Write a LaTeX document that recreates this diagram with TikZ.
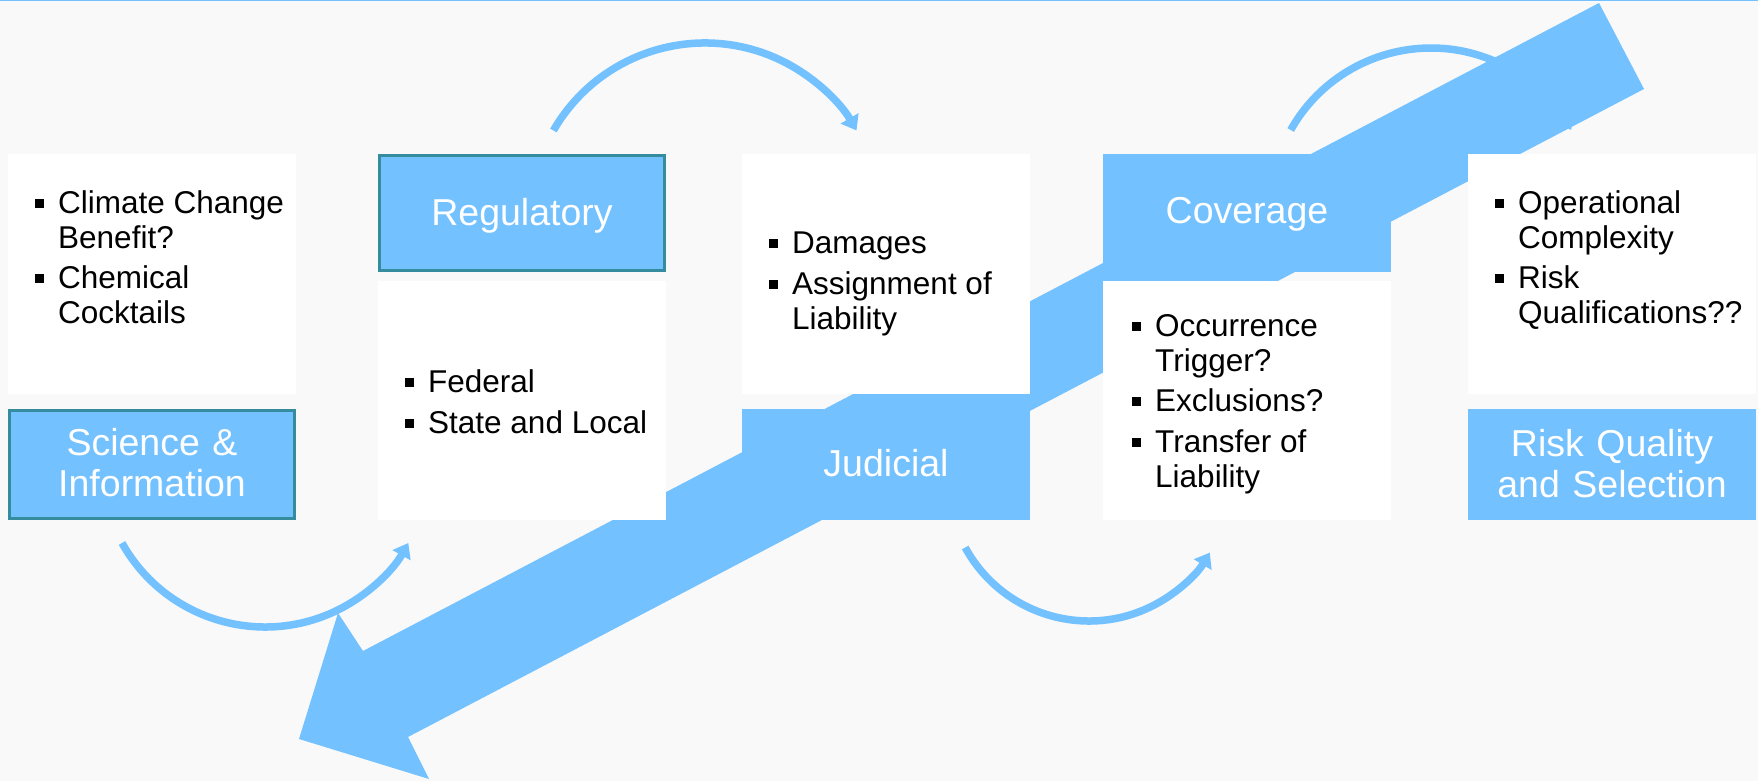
\documentclass[tikz,border=0pt]{standalone}
\usepackage{fontspec}
\setmainfont{Liberation Sans}
\usetikzlibrary{arrows.meta}

\definecolor{skyfill}{RGB}{115,193,254}
\definecolor{edgeteal}{RGB}{52,140,158}
\definecolor{pagebg}{RGB}{249,249,249}

% square bullet in a fixed-width slot
\newcommand\blt{\makebox[23pt][l]{\rule[6pt]{9pt}{9pt}}}

\tikzset{
  panel/.style={inner sep=0pt, outer sep=0pt, anchor=south west, minimum width=288pt},
  whitebox/.style={panel, fill=white},
  bluebox/.style={panel, fill=skyfill},
  edged/.style={panel, fill=skyfill, draw=edgeteal, line width=3pt, minimum width=285pt},
  listtext/.style={anchor=base west, inner sep=0pt, font=\fontsize{31.5}{35}\selectfont},
  headtext/.style={anchor=base, inner sep=0pt, text width=288pt, align=center,
    text=white, font=\fontsize{37.5}{41}\selectfont},
  cycarrow/.style={draw=skyfill, line width=7.5pt, -{Triangle[length=14pt,width=20pt]}}
}

\begin{document}
\begin{tikzpicture}[x=1pt, y=1pt]
  \useasboundingbox (0,0) rectangle (1758,781);
  \fill[pagebg] (0,0) rectangle (1758,781);
  \draw[skyfill, line width=1.5pt] (0,780.25) -- (1758,780.25);

  % curved step arrows
  \coordinate (a1s) at (122,238);
  \coordinate (a2s) at (553.4,650.5);
  \coordinate (a3s) at (965.2,233.5);
  \coordinate (a4s) at (1290.7,651);
  \draw[cycarrow] (a1s) arc[start angle=209.2, end angle=330.8, radius=164];
  \draw[cycarrow] (a2s) arc[start angle=150, end angle=30, radius=175];
  \draw[cycarrow] (a3s) arc[start angle=208.6, end angle=329, radius=141];
  \draw[cycarrow] (a4s) arc[start angle=150.6, end angle=29.4, radius=161];

  % large diagonal arrow behind the panels
  \fill[skyfill] (1599,778) -- (1644,692) -- (408,44) -- (429,2) -- (299,42)
    -- (338,168) -- (363,130) -- cycle;

  % column panels
  \node[whitebox, minimum height=240pt] (box1) at (8,387) {};
  \node[edged, minimum height=108pt] (sci) at (9.5,262.5) {};
  \node[edged, minimum height=115pt] (reg) at (379.5,510.5) {};
  \node[whitebox, minimum height=239pt] (box2) at (378,261) {};
  \node[whitebox, minimum height=240pt] (box3) at (742,387) {};
  \node[bluebox, minimum height=111pt] (jud) at (742,261) {};
  \node[bluebox, minimum height=118pt] (cov) at (1103,509) {};
  \node[whitebox, minimum height=239pt] (box4) at (1103,261) {};
  \node[whitebox, minimum height=240pt] (box5) at (1468,387) {};
  \node[bluebox, minimum height=111pt] (rqs) at (1468,261) {};

  % panel headings
  \node[headtext] (scit) at (152,325) {Science \&\\Information};
  \node[headtext] (regt) at (522,555) {Regulatory};
  \node[headtext] (judt) at (886,304) {Judicial};
  \node[headtext] (covt) at (1247,557) {Coverage};
  \node[headtext] (rqst) at (1612,324) {Risk Quality\\and Selection};

  % bullet lists
  \node[listtext] (l1) at (35,567) {\begin{tabular}[t]{@{}l@{}l@{}}
    \blt & Climate Change\\ & Benefit?\\[5pt]
    \blt & Chemical\\ & Cocktails\end{tabular}};
  \node[listtext] (l2) at (405,388) {\begin{tabular}[t]{@{}l@{}l@{}}
    \blt & Federal\\[6pt]
    \blt & State and Local\end{tabular}};
  \node[listtext] (l3) at (769,527) {\begin{tabular}[t]{@{}l@{}l@{}}
    \blt & Damages\\[6pt]
    \blt & Assignment of\\ & Liability\end{tabular}};
  \node[listtext] (l4) at (1132,444) {\begin{tabular}[t]{@{}l@{}l@{}}
    \blt & Occurrence\\ & Trigger?\\[5pt]
    \blt & Exclusions?\\[6pt]
    \blt & Transfer of\\ & Liability\end{tabular}};
  \node[listtext] (l5) at (1495,567) {\begin{tabular}[t]{@{}l@{}l@{}}
    \blt & Operational\\ & Complexity\\[5pt]
    \blt & Risk\\ & Qualifications??\end{tabular}};
\end{tikzpicture}
\end{document}
